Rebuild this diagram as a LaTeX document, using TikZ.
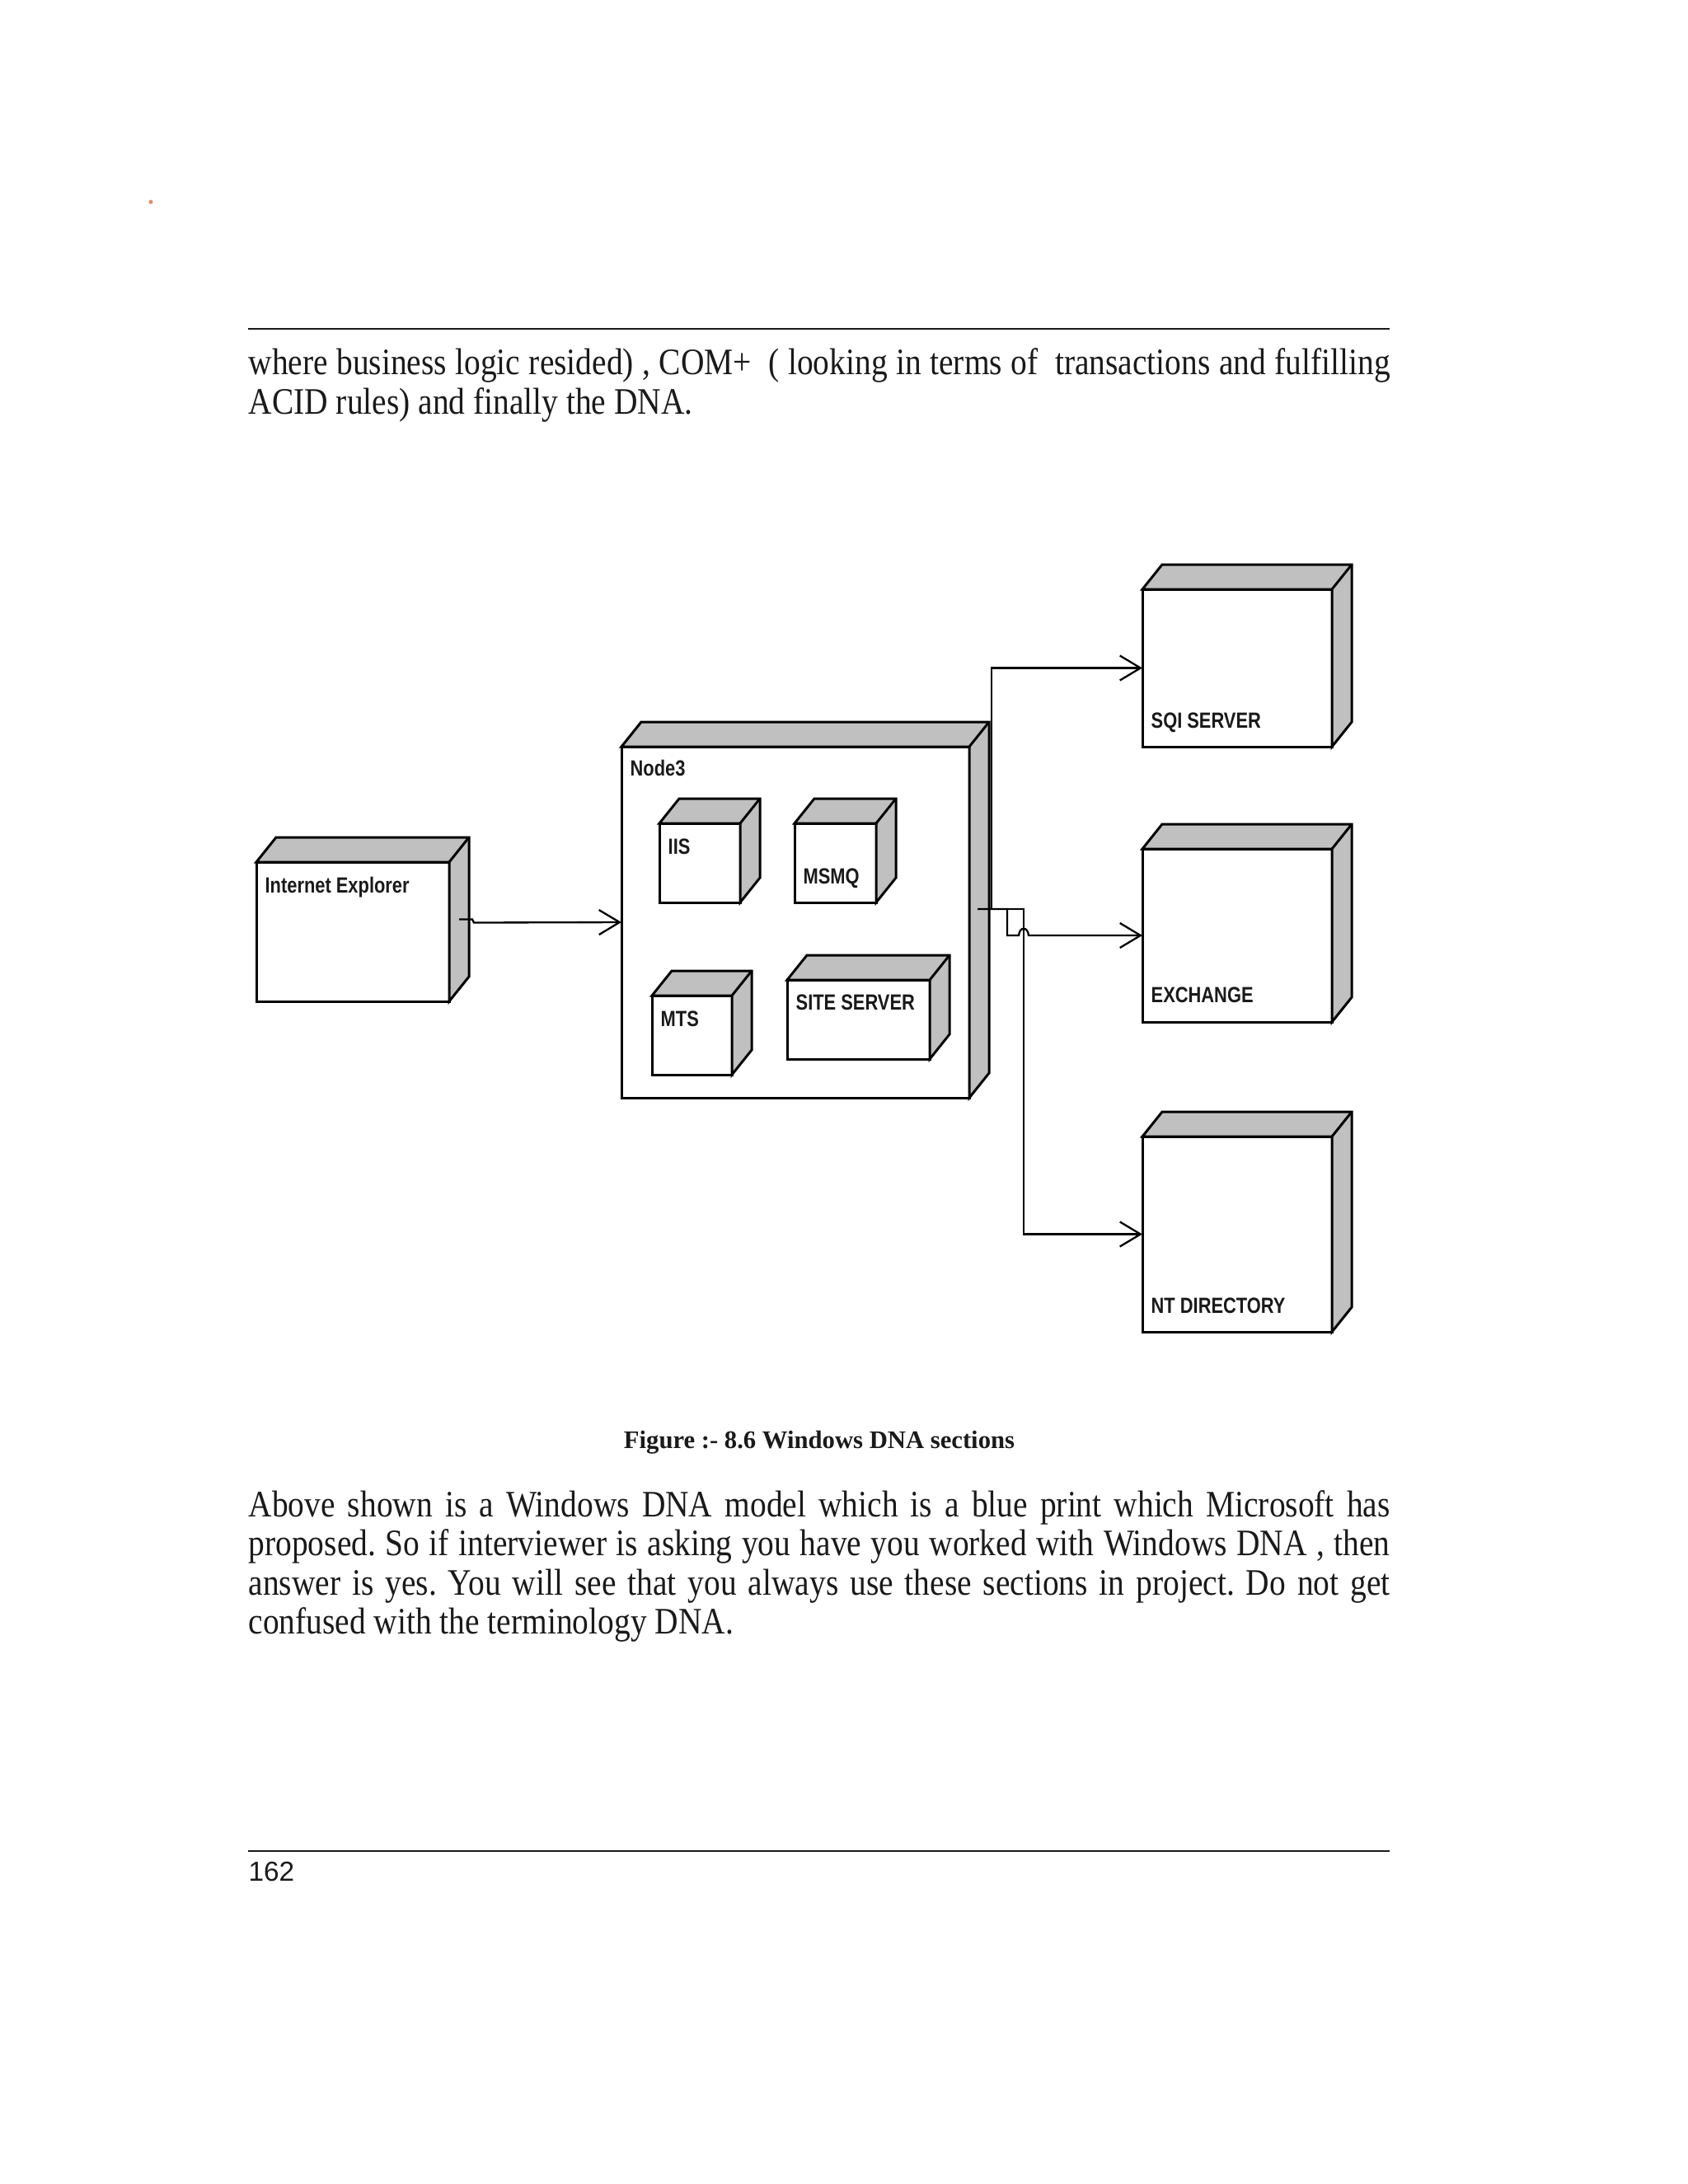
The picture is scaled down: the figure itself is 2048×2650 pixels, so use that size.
\documentclass[tikz,border=0pt]{standalone}
\usepackage{fontspec}
\newfontfamily\bodyfont[FakeStretch=0.87]{Liberation Serif}
\newfontfamily\capfont{Liberation Serif Bold}
\newfontfamily\boxfont[FakeStretch=0.82]{Liberation Sans Bold}
\newfontfamily\pagefont{Liberation Sans}
\usetikzlibrary{calc,positioning,arrows.meta}
\definecolor{silver}{RGB}{192,192,192}
\definecolor{ink}{RGB}{26,26,26}
\definecolor{speck}{RGB}{230,140,100}
\frenchspacing
\tikzset{
  front/.style={rectangle,draw=black,fill=white,line width=0.9pt,inner sep=0pt,outer sep=0pt},
  shade3d/.style={draw=black,fill=silver,line width=0.9pt,line join=miter},
  boxlabel/.style={anchor=base west,inner sep=0pt,text=ink,font=\boxfont\fontsize{8pt}{9pt}\selectfont},
  link/.style={draw=black,line width=0.7pt,-{Straight Barb[length=7.5pt,width=9pt,line width=0.7pt]}},
  textline/.style={anchor=base west,inner sep=0pt,text=ink,font=\bodyfont\fontsize{13.6pt}{16pt}\selectfont},
}

\begin{document}
\begin{tikzpicture}[x=0.3pt,y=-0.3pt]
  \useasboundingbox[fill=white] (0,0) rectangle (2048,2650);
  \def\dx{24}
  \def\dy{30}
  \fill[speck] (183,245) circle (2.5);
  % page head
  \draw[line width=0.8pt,ink] (301,399) -- (1686,399);
  \node[textline] (para1a) at (301,454) {\makebox[415.5pt][s]{where business logic resided) , COM+ \ ( looking in terms of \ transactions and fulfilling}};
  \node[textline] (para1b) at (301,502) {ACID rules) and finally the DNA.};
  % deployment nodes: name/left/top/right/bottom/label/label baseline
  \foreach \nm/\l/\t/\r/\b/\txt/\ty in {
    ie/311/1046/545/1215/Internet Explorer/1083,
    node3/754/906/1176/1332/Node3/941,
    iis/800/999/898/1095/IIS/1036,
    msmq/964/999/1063/1095/MSMQ/1072,
    mts/791/1208/888/1304/MTS/1245,
    site/955/1189/1128/1285/SITE SERVER/1225,
    sqlsrv/1386/715/1616/906/SQI SERVER/883,
    exch/1386/1030/1616/1240/EXCHANGE/1216,
    ntdir/1386/1379/1616/1616/NT DIRECTORY/1593}{
    \node[front,minimum width={(\r-\l)*0.3pt},minimum height={(\b-\t)*0.3pt}] (\nm) at ({(\l+\r)/2},{(\t+\b)/2}) {};
    \draw[shade3d] (\nm.north west) -- ++(\dx,-\dy) -- ([shift={(\dx,-\dy)}]\nm.north east)
      -- ([shift={(\dx,-\dy)}]\nm.south east) -- (\nm.south east) -- (\nm.north east) -- cycle;
    \draw[shade3d] (\nm.north east) -- ++(\dx,-\dy);
    \node[boxlabel] (\nm-txt) at (\l+10,\ty) {\txt};
  }
  % connectors
  \coordinate (ieout) at ([shift={(12,-15)}]ie.east);
  \coordinate (n3out) at ([shift={(10,-16)}]node3.east);
  \draw[link] (ieout) -- ++(16,0) -- ++(2,4) -- (node3.west);
  \draw[link] (n3out) -- ++(17,0) |- (sqlsrv.west);
  \draw[link] (n3out) -- ++(36,0) -- ++(0,32) -- ++(14,0)
    .. controls +(1,-11) and +(-1,-11) .. ++(12,0) -- (exch.west);
  \draw[link] (n3out) -- ++(56,0) |- (ntdir.west);
  % caption and page foot
  \node[anchor=base,inner sep=0pt,text=ink,font=\capfont\fontsize{9.2pt}{11pt}\selectfont] (caption) at (994,1757) {Figure :- 8.6 Windows DNA sections};
  \node[textline] (para2a) at (301,1840) {\makebox[415.5pt][s]{Above shown is a Windows DNA model which is a blue print which Microsoft has}};
  \node[textline] (para2b) at (301,1887) {\makebox[415.5pt][s]{proposed. So if interviewer is asking you have you worked with Windows DNA , then}};
  \node[textline] (para2c) at (301,1935) {\makebox[415.5pt][s]{answer is yes. You will see that you always use these sections in project. Do not get}};
  \node[textline] (para2d) at (301,1982) {confused with the terminology DNA.};
  \draw[line width=0.6pt,ink] (301,2246) -- (1686,2246);
  \node[anchor=base west,inner sep=0pt,text=ink,font=\pagefont\fontsize{10pt}{12pt}\selectfont] (pageno) at (301,2282) {162};
\end{tikzpicture}
\end{document}
